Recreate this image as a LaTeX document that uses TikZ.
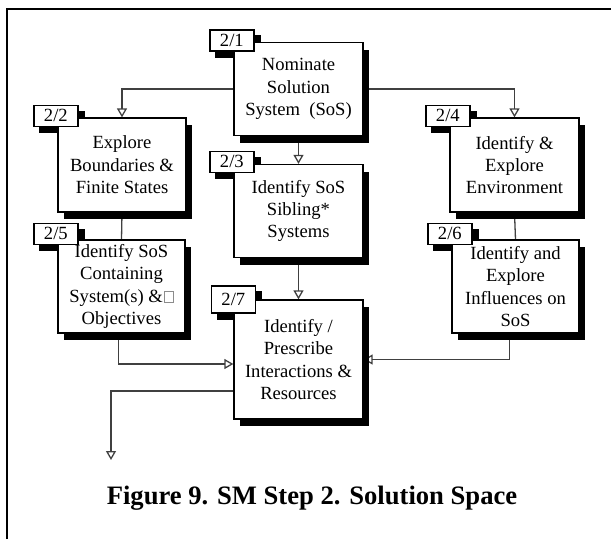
\documentclass[tikz,border=0pt]{standalone}
\usepackage{fontspec}
\setmainfont{Liberation Serif}
\usetikzlibrary{positioning,calc,shadows,arrows.meta}
\pgfdeclarelayer{back}
\pgfdeclarelayer{front}
\pgfsetlayers{back,main,front}

% the empty box that the original prints after "&"
\newcommand{\nogly}{\kern1.5pt{\color{black!45}\setlength\fboxsep{0pt}\setlength\fboxrule{0.6pt}\fbox{\rule{0pt}{11pt}\rule{8pt}{0pt}}}}

\begin{document}
\begin{tikzpicture}[x=1pt,y=-1pt,
    stepbox/.style={draw, line width=1.3pt, fill=white, align=center,
        minimum width=129pt, minimum height=93pt, inner sep=0pt,
        font=\fontsize{18.6pt}{22.4pt}\selectfont,
        drop shadow={fill=black, opacity=1, shadow xshift=6pt, shadow yshift=-7pt}},
    tag/.style={draw, line width=1.3pt, fill=white, minimum width=44pt,
        minimum height=21pt, inner sep=0pt, font=\fontsize{18.6pt}{22.4pt}\selectfont},
    link/.style={draw=black!75, line width=1.3pt},
    flow/.style={link, -{Triangle[open, length=9pt, width=10pt]}}]

    \useasboundingbox (0,0) rectangle (611,539);

    % Frame
    \draw[line width=2pt] (7,539) -- (7,8.5) -- (611,8.5);

    % Steps
    \node[stepbox] (s1) at (298.5,89) {Nominate\\Solution\\System~ (SoS)};
    \node[stepbox, minimum width=128pt, minimum height=94pt] (s2) at (122,165) {Explore\\Boundaries \&\\Finite States};
    \node[stepbox] (s3) at (298.5,211) {Identify SoS\\Sibling*\\Systems};
    \node[stepbox, minimum height=94pt] (s4) at (514.5,165) {Identify \&\\Explore\\Environment};
    \node[stepbox, minimum width=127pt] (s5) at (121.5,286.5) {Identify SoS\\Containing\\System(s) \&\nogly\\Objectives};
    \node[stepbox, minimum width=127pt] (s6) at (515.5,286.5) {Identify and\\Explore\\Influences on\\SoS};
    \node[stepbox, minimum height=119pt] (s7) at (298.5,359.5) {Identify /\\Prescribe\\Interactions \&\\Resources};

    % Step numbers
    \begin{pgfonlayer}{front}
        \foreach \n/\dy in {1/1.5,2/1.5,3/2,4/1.5,5/5.5,6/5.5}
            \node[tag] (t\n) at ([xshift=-1.5pt,yshift=\dy pt]s\n.north west) {2/\n};
        \node[tag, minimum height=27pt] (t7) at (s7.north west) {2/7};
    \end{pgfonlayer}

    \begin{pgfonlayer}{back}
        % shadows of the step numbers
        \foreach \n in {1,...,7}
            \fill ([shift={(6pt,-6pt)}]t\n.south west) rectangle ([shift={(6pt,-6pt)}]t\n.north east);

        % Arrows
        \draw[flow] (s1.west) -| (s2.north);
        \draw[flow] (s1.east) -| (s4.north);
        \draw[flow] (s1.south) -- (s3.north);
        \draw[link] (s2.south) -- (s5.north);
        \draw[link] (s4.south) -- (s6.north);
        \draw[flow] (s3.south) -- (s7.north);
        \draw[flow] ([xshift=-3pt]s5.south) |- ([yshift=-4.5pt]s7.west);
        \draw[flow] ([xshift=-6pt]s6.south) |- (s7.east);
        \coordinate (out) at (111,460);
        \draw[flow] ([yshift=-31.5pt]s7.west) -| (out);
    \end{pgfonlayer}

    % Caption
    \node[font=\fontsize{26.6pt}{32pt}\selectfont\bfseries, anchor=base] (caption) at (312,504) {Figure 9. SM Step 2. Solution Space};

\end{tikzpicture}
\end{document}
